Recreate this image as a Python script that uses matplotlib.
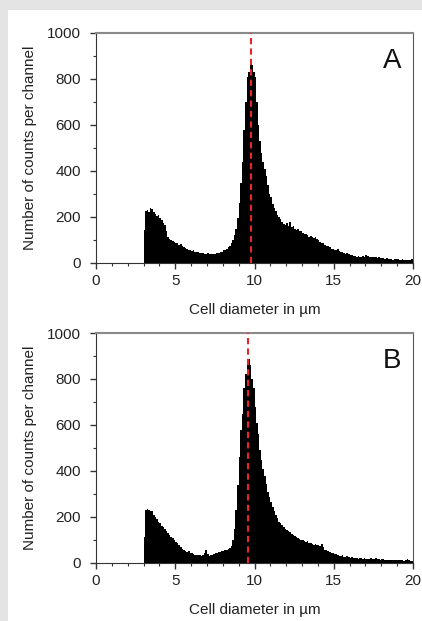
import numpy as np
import matplotlib.pyplot as plt
from matplotlib.patches import Rectangle
from matplotlib.ticker import MultipleLocator

plt.rcParams['font.family'] = ['Liberation Sans', 'DejaVu Sans']

# channel counts, 0.1 um channels starting at 3.0 um (one row per um)
bin_start = 3.0
bin_width = 0.1

counts_a = [
    145, 225, 232, 220, 238, 235, 222, 215, 205, 208,   # 3
    195, 188, 175, 165, 140, 112, 105, 98, 95, 92,      # 4
    88, 85, 80, 82, 74, 70, 66, 62, 58, 56,             # 5
    52, 55, 48, 46, 50, 44, 42, 45, 40, 38,             # 6
    42, 40, 38, 41, 40, 38, 42, 45, 48, 50,             # 7
    55, 58, 62, 68, 75, 85, 100, 120, 150, 195,         # 8
    260, 350, 440, 580, 700, 810, 830, 885, 860, 830,   # 9
    810, 700, 600, 530, 480, 440, 410, 380, 340, 300,   # 10
    285, 255, 240, 225, 210, 200, 190, 180, 170, 165,   # 11
    175, 160, 178, 155, 160, 150, 145, 150, 140, 138,   # 12
    132, 128, 125, 120, 115, 118, 112, 110, 115, 105,   # 13
    100, 92, 88, 85, 80, 75, 72, 68, 62, 60,            # 14
    58, 55, 60, 52, 48, 46, 44, 40, 42, 38,             # 15
    35, 33, 30, 32, 28, 30, 27, 26, 30, 28,             # 16
    35, 30, 28, 26, 25, 28, 24, 22, 25, 20,             # 17
    22, 20, 18, 22, 19, 17, 18, 15, 17, 16,             # 18
    18, 15, 14, 16, 13, 15, 12, 14, 13, 18,             # 19
]

counts_b = [
    115, 230, 235, 232, 228, 225, 210, 200, 190, 180,   # 3
    172, 160, 155, 150, 140, 130, 122, 115, 110, 100,   # 4
    92, 85, 78, 70, 62, 55, 52, 48, 52, 45,             # 5
    42, 38, 36, 35, 33, 36, 32, 34, 45, 55,             # 6
    38, 32, 34, 36, 40, 42, 45, 48, 50, 52,             # 7
    52, 55, 58, 60, 65, 75, 100, 150, 230, 340,         # 8
    460, 580, 650, 760, 820, 870, 888, 860, 800, 760,   # 9
    680, 610, 560, 490, 450, 410, 380, 345, 310, 285,   # 10
    265, 245, 225, 210, 195, 180, 172, 165, 158, 150,   # 11
    145, 140, 135, 128, 122, 118, 112, 108, 104, 100,   # 12
    98, 96, 92, 95, 88, 85, 82, 80, 84, 78,             # 13
    80, 75, 82, 70, 58, 55, 52, 48, 45, 44,             # 14
    40, 38, 35, 32, 30, 33, 28, 26, 30, 25,             # 15
    22, 24, 21, 20, 23, 19, 20, 22, 18, 20,             # 16
    19, 17, 18, 20, 16, 18, 20, 17, 18, 15,             # 17
    16, 18, 14, 15, 13, 15, 12, 14, 13, 11,             # 18
    12, 13, 11, 12, 10, 12, 18, 11, 10, 9,              # 19
]

peak_a = 9.8
peak_b = 9.57
panels = [('A', counts_a, peak_a), ('B', counts_b, peak_b)]

fig = plt.figure(figsize=(4.22, 6.21), dpi=100, facecolor='#e4e4e4')
# white card behind the two plots
fig.patches.append(Rectangle((8/422, 0), 1, 1 - 10/621, transform=fig.transFigure,
                             facecolor='white', edgecolor='none', zorder=-10))

axes_rects = [
    [96/422, 1 - 263/621, 317/422, 230/621],
    [96/422, 1 - 563/621, 317/422, 230/621],
]

for (letter, counts, peak), rect in zip(panels, axes_rects):
    ax = fig.add_axes(rect)
    ax.set_facecolor('white')
    edges = bin_start + bin_width*np.arange(len(counts) + 1)
    ax.stairs(counts, edges, fill=True, color='black', linewidth=0)
    ax.plot([peak, peak], [0, 1000], '--', color='#e8252b', linewidth=1.5,
            dashes=(3, 2), zorder=3)

    ax.set_xlim(0, 20)
    ax.set_ylim(0, 1000)
    ax.set_xticks([0, 5, 10, 15, 20])
    ax.set_yticks([0, 200, 400, 600, 800, 1000])
    ax.xaxis.set_minor_locator(MultipleLocator(1))
    ax.yaxis.set_minor_locator(MultipleLocator(100))
    ax.tick_params(which='major', direction='out', length=4, width=1,
                   labelsize=11, color='#333333', labelcolor='#222222', pad=4)
    ax.tick_params(axis='y', which='major', pad=7)
    ax.tick_params(which='minor', direction='out', length=2.5, width=0.8,
                   color='#333333')
    ax.spines['top'].set_color('#8a8a8a')
    ax.spines['top'].set_linewidth(1.5)
    ax.spines['right'].set_color('#555555')
    ax.spines['left'].set_color('#333333')
    ax.spines['bottom'].set_color('#333333')

    ax.set_xlabel('Cell diameter in µm', fontsize=11, color='#222222', labelpad=11)
    ax.set_ylabel('Number of counts per channel', fontsize=11, color='#222222',
                  labelpad=7)
    ax.text(18.7, 880, letter, fontsize=20, ha='center', va='center',
            color='#111111')

fig.savefig('out.png', dpi=100, facecolor=fig.get_facecolor())
